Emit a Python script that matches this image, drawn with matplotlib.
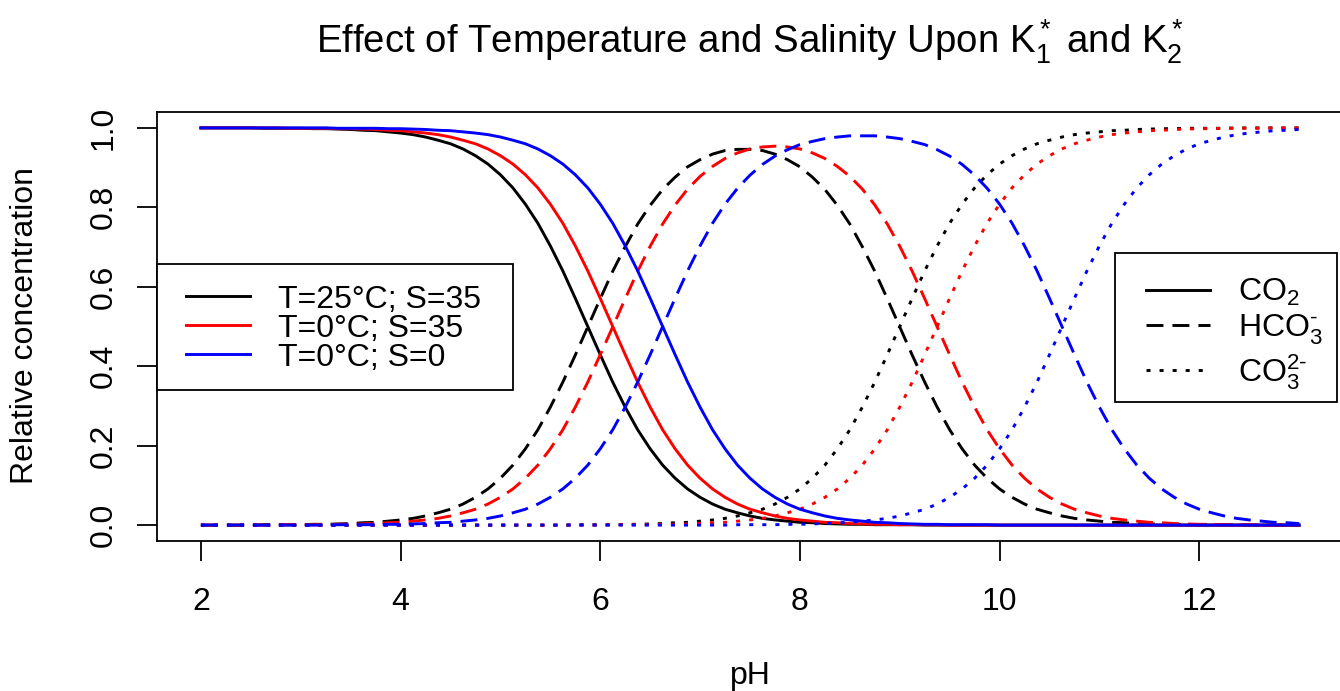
#!/usr/bin/env python3
"""
Carbonate speciation vs pH for three temperature / salinity conditions.
"""

import matplotlib
matplotlib.use('Agg')
import matplotlib.pyplot as plt
from matplotlib.lines import Line2D
from matplotlib.patches import Rectangle

# pH grid the curves were read at (one row per pH unit)
ph = [2.0, 2.125, 2.25, 2.375, 2.5, 2.625, 2.75, 2.875,
      3.0, 3.125, 3.25, 3.375, 3.5, 3.625, 3.75, 3.875,
      4.0, 4.125, 4.25, 4.375, 4.5, 4.625, 4.75, 4.875,
      5.0, 5.125, 5.25, 5.375, 5.5, 5.625, 5.75, 5.875,
      6.0, 6.125, 6.25, 6.375, 6.5, 6.625, 6.75, 6.875,
      7.0, 7.125, 7.25, 7.375, 7.5, 7.625, 7.75, 7.875,
      8.0, 8.125, 8.25, 8.375, 8.5, 8.625, 8.75, 8.875,
      9.0, 9.125, 9.25, 9.375, 9.5, 9.625, 9.75, 9.875,
      10.0, 10.125, 10.25, 10.375, 10.5, 10.625, 10.75, 10.875,
      11.0, 11.125, 11.25, 11.375, 11.5, 11.625, 11.75, 11.875,
      12.0, 12.125, 12.25, 12.375, 12.5, 12.625, 12.75, 12.875,
      13.0]

# T=25C; S=35
co2_t25_s35 = [1.000, 1.000, 1.000, 1.000, 1.000, 0.999, 0.999, 0.999,
               0.999, 0.998, 0.998, 0.997, 0.996, 0.994, 0.993, 0.990,
               0.987, 0.983, 0.977, 0.969, 0.960, 0.947, 0.930, 0.909,
               0.882, 0.849, 0.808, 0.760, 0.703, 0.640, 0.571, 0.500,
               0.429, 0.360, 0.297, 0.240, 0.192, 0.151, 0.118, 0.091,
               0.070, 0.053, 0.040, 0.031, 0.023, 0.017, 0.013, 0.010,
               0.007, 0.006, 0.004, 0.003, 0.002, 0.002, 0.001, 0.001,
               0.001, 0.001, 0.000, 0.000, 0.000, 0.000, 0.000, 0.000,
               0.000, 0.000, 0.000, 0.000, 0.000, 0.000, 0.000, 0.000,
               0.000, 0.000, 0.000, 0.000, 0.000, 0.000, 0.000, 0.000,
               0.000, 0.000, 0.000, 0.000, 0.000, 0.000, 0.000, 0.000,
               0.000]
hco3_t25_s35 = [0.000, 0.000, 0.000, 0.000, 0.000, 0.001, 0.001, 0.001,
                0.001, 0.002, 0.002, 0.003, 0.004, 0.006, 0.007, 0.010,
                0.013, 0.017, 0.023, 0.031, 0.040, 0.053, 0.070, 0.091,
                0.118, 0.151, 0.192, 0.240, 0.297, 0.360, 0.428, 0.499,
                0.570, 0.639, 0.701, 0.758, 0.805, 0.845, 0.876, 0.902,
                0.920, 0.934, 0.943, 0.946, 0.946, 0.943, 0.934, 0.920,
                0.902, 0.876, 0.845, 0.805, 0.758, 0.701, 0.639, 0.570,
                0.499, 0.428, 0.360, 0.297, 0.240, 0.192, 0.151, 0.118,
                0.091, 0.070, 0.053, 0.040, 0.031, 0.023, 0.017, 0.013,
                0.010, 0.007, 0.006, 0.004, 0.003, 0.002, 0.002, 0.001,
                0.001, 0.001, 0.001, 0.000, 0.000, 0.000, 0.000, 0.000,
                0.000]
co3_t25_s35 = [0.000, 0.000, 0.000, 0.000, 0.000, 0.000, 0.000, 0.000,
               0.000, 0.000, 0.000, 0.000, 0.000, 0.000, 0.000, 0.000,
               0.000, 0.000, 0.000, 0.000, 0.000, 0.000, 0.000, 0.000,
               0.000, 0.000, 0.000, 0.000, 0.000, 0.000, 0.001, 0.001,
               0.001, 0.001, 0.002, 0.002, 0.003, 0.004, 0.006, 0.007,
               0.010, 0.013, 0.017, 0.023, 0.031, 0.040, 0.053, 0.070,
               0.091, 0.118, 0.151, 0.192, 0.240, 0.297, 0.360, 0.429,
               0.500, 0.571, 0.640, 0.703, 0.760, 0.808, 0.849, 0.882,
               0.909, 0.930, 0.947, 0.960, 0.969, 0.977, 0.983, 0.987,
               0.990, 0.993, 0.994, 0.996, 0.997, 0.998, 0.998, 0.999,
               0.999, 0.999, 0.999, 1.000, 1.000, 1.000, 1.000, 1.000,
               1.000]

# T=0C; S=35
co2_t0_s35 = [1.000, 1.000, 1.000, 1.000, 1.000, 1.000, 1.000, 0.999,
              0.999, 0.999, 0.999, 0.998, 0.998, 0.997, 0.996, 0.994,
              0.993, 0.990, 0.987, 0.983, 0.977, 0.969, 0.960, 0.947,
              0.930, 0.909, 0.882, 0.849, 0.808, 0.760, 0.703, 0.640,
              0.571, 0.500, 0.429, 0.360, 0.297, 0.240, 0.192, 0.151,
              0.118, 0.091, 0.070, 0.053, 0.040, 0.031, 0.023, 0.017,
              0.013, 0.010, 0.007, 0.006, 0.004, 0.003, 0.002, 0.002,
              0.001, 0.001, 0.001, 0.001, 0.000, 0.000, 0.000, 0.000,
              0.000, 0.000, 0.000, 0.000, 0.000, 0.000, 0.000, 0.000,
              0.000, 0.000, 0.000, 0.000, 0.000, 0.000, 0.000, 0.000,
              0.000, 0.000, 0.000, 0.000, 0.000, 0.000, 0.000, 0.000,
              0.000]
hco3_t0_s35 = [0.000, 0.000, 0.000, 0.000, 0.000, 0.000, 0.000, 0.001,
               0.001, 0.001, 0.001, 0.002, 0.002, 0.003, 0.004, 0.006,
               0.007, 0.010, 0.013, 0.017, 0.023, 0.031, 0.040, 0.053,
               0.070, 0.091, 0.118, 0.151, 0.192, 0.240, 0.297, 0.360,
               0.429, 0.499, 0.570, 0.639, 0.702, 0.758, 0.806, 0.846,
               0.878, 0.903, 0.923, 0.937, 0.947, 0.952, 0.954, 0.952,
               0.947, 0.937, 0.923, 0.903, 0.878, 0.846, 0.806, 0.758,
               0.702, 0.639, 0.570, 0.499, 0.429, 0.360, 0.297, 0.240,
               0.192, 0.151, 0.118, 0.091, 0.070, 0.053, 0.040, 0.031,
               0.023, 0.017, 0.013, 0.010, 0.007, 0.006, 0.004, 0.003,
               0.002, 0.002, 0.001, 0.001, 0.001, 0.001, 0.000, 0.000,
               0.000]
co3_t0_s35 = [0.000, 0.000, 0.000, 0.000, 0.000, 0.000, 0.000, 0.000,
              0.000, 0.000, 0.000, 0.000, 0.000, 0.000, 0.000, 0.000,
              0.000, 0.000, 0.000, 0.000, 0.000, 0.000, 0.000, 0.000,
              0.000, 0.000, 0.000, 0.000, 0.000, 0.000, 0.000, 0.000,
              0.000, 0.001, 0.001, 0.001, 0.001, 0.002, 0.002, 0.003,
              0.004, 0.006, 0.007, 0.010, 0.013, 0.017, 0.023, 0.031,
              0.040, 0.053, 0.070, 0.091, 0.118, 0.151, 0.192, 0.240,
              0.297, 0.360, 0.429, 0.500, 0.571, 0.640, 0.703, 0.760,
              0.808, 0.849, 0.882, 0.909, 0.930, 0.947, 0.960, 0.969,
              0.977, 0.983, 0.987, 0.990, 0.993, 0.994, 0.996, 0.997,
              0.998, 0.998, 0.999, 0.999, 0.999, 0.999, 1.000, 1.000,
              1.000]

# T=0C; S=0
co2_t0_s0 = [1.000, 1.000, 1.000, 1.000, 1.000, 1.000, 1.000, 1.000,
             1.000, 1.000, 1.000, 0.999, 0.999, 0.999, 0.999, 0.998,
             0.998, 0.997, 0.996, 0.994, 0.993, 0.990, 0.987, 0.983,
             0.977, 0.969, 0.960, 0.947, 0.930, 0.909, 0.882, 0.849,
             0.808, 0.760, 0.703, 0.640, 0.571, 0.500, 0.429, 0.360,
             0.297, 0.240, 0.192, 0.151, 0.118, 0.091, 0.070, 0.053,
             0.040, 0.031, 0.023, 0.017, 0.013, 0.010, 0.007, 0.006,
             0.004, 0.003, 0.002, 0.002, 0.001, 0.001, 0.001, 0.001,
             0.000, 0.000, 0.000, 0.000, 0.000, 0.000, 0.000, 0.000,
             0.000, 0.000, 0.000, 0.000, 0.000, 0.000, 0.000, 0.000,
             0.000, 0.000, 0.000, 0.000, 0.000, 0.000, 0.000, 0.000,
             0.000]
hco3_t0_s0 = [0.000, 0.000, 0.000, 0.000, 0.000, 0.000, 0.000, 0.000,
              0.000, 0.000, 0.000, 0.001, 0.001, 0.001, 0.001, 0.002,
              0.002, 0.003, 0.004, 0.006, 0.007, 0.010, 0.013, 0.017,
              0.023, 0.031, 0.040, 0.053, 0.070, 0.091, 0.118, 0.151,
              0.192, 0.240, 0.297, 0.360, 0.429, 0.500, 0.571, 0.640,
              0.703, 0.760, 0.808, 0.848, 0.881, 0.908, 0.929, 0.945,
              0.958, 0.966, 0.973, 0.977, 0.980, 0.980, 0.980, 0.977,
              0.973, 0.966, 0.958, 0.945, 0.929, 0.908, 0.881, 0.848,
              0.808, 0.760, 0.703, 0.640, 0.571, 0.500, 0.429, 0.360,
              0.297, 0.240, 0.192, 0.151, 0.118, 0.091, 0.070, 0.053,
              0.040, 0.031, 0.023, 0.017, 0.013, 0.010, 0.007, 0.006,
              0.004]
co3_t0_s0 = [0.000, 0.000, 0.000, 0.000, 0.000, 0.000, 0.000, 0.000,
             0.000, 0.000, 0.000, 0.000, 0.000, 0.000, 0.000, 0.000,
             0.000, 0.000, 0.000, 0.000, 0.000, 0.000, 0.000, 0.000,
             0.000, 0.000, 0.000, 0.000, 0.000, 0.000, 0.000, 0.000,
             0.000, 0.000, 0.000, 0.000, 0.000, 0.000, 0.000, 0.000,
             0.000, 0.000, 0.000, 0.001, 0.001, 0.001, 0.001, 0.002,
             0.002, 0.003, 0.004, 0.006, 0.007, 0.010, 0.013, 0.017,
             0.023, 0.031, 0.040, 0.053, 0.070, 0.091, 0.118, 0.151,
             0.192, 0.240, 0.297, 0.360, 0.429, 0.500, 0.571, 0.640,
             0.703, 0.760, 0.808, 0.849, 0.882, 0.909, 0.930, 0.947,
             0.960, 0.969, 0.977, 0.983, 0.987, 0.990, 0.993, 0.994,
             0.996]

cond_labels = ['T=25°C; S=35', 'T=0°C; S=35', 'T=0°C; S=0']
cond_colors = ['black', 'red', 'blue']
species_labels = [r'$\mathrm{CO}_2$', r'$\mathrm{HCO}_3^{\text{-}}$',
                  r'$\mathrm{CO}_3^{\text{2-}}$']
y_ticks = [0.0, 0.2, 0.4, 0.6, 0.8, 1.0]
x_ticks = [2, 4, 6, 8, 10, 12]

plt.rcParams['font.family'] = ['Liberation Sans', 'DejaVu Sans']
plt.rcParams['mathtext.fontset'] = 'custom'
plt.rcParams['mathtext.rm'] = 'Liberation Sans'
plt.rcParams['mathtext.it'] = 'Liberation Sans:italic'
plt.rcParams['mathtext.bf'] = 'Liberation Sans:bold'
plt.rcParams['lines.scale_dashes'] = False

FS = 23
LW = 2.1
BOX_LW = 1.3
DASHED = (0, (12.2, 6.5))
DOTTED = (0, (2.9, 6.5))
W, H = 1340, 691


def px(x, y):
    """figure pixel (from top-left) -> figure fraction"""
    return x / W, 1 - y / H


def key_box(ax, x0, y0, x1, y1):
    # R-style legend frame, drawn separately so the padding can match
    r = Rectangle(px(x0, y1), (x1 - x0) / W, (y1 - y0) / H,
                  transform=ax.figure.transFigure, facecolor='white',
                  edgecolor='black', linewidth=BOX_LW, zorder=4.5)
    ax.add_patch(r)
    r.set_clip_on(False)


def main():
    fig = plt.figure(figsize=(W / 100, H / 100), dpi=100)
    ax = fig.add_axes([157 / W, 150 / H, 1186 / W, 429 / H])

    series = [(co2_t25_s35, hco3_t25_s35, co3_t25_s35),
              (co2_t0_s35, hco3_t0_s35, co3_t0_s35),
              (co2_t0_s0, hco3_t0_s0, co3_t0_s0)]
    for colour, (co2, hco3, co3) in zip(cond_colors, series):
        ax.plot(ph, co2, color=colour, lw=LW)
        ax.plot(ph, hco3, color=colour, lw=LW, linestyle=DASHED)
        ax.plot(ph, co3, color=colour, lw=LW, linestyle=DOTTED)

    ax.set_xlim(1.56, 13.44)
    ax.set_ylim(-0.04, 1.04)
    ax.set_xticks(x_ticks)
    ax.set_yticks(y_ticks)
    ax.set_yticklabels([f'{v:.1f}' for v in y_ticks])
    for s in ax.spines.values():
        s.set_linewidth(BOX_LW)
    ax.tick_params(axis='both', direction='out', length=14.4, width=BOX_LW,
                   labelsize=FS)
    ax.tick_params(axis='x', pad=19)
    ax.tick_params(axis='y', pad=13, labelrotation=90)
    for lbl in ax.get_yticklabels():
        lbl.set_va('center')

    # legends: frames drawn by hand, contents by ax.legend without frame
    common = dict(loc='upper left', bbox_transform=fig.transFigure,
                  borderaxespad=0, borderpad=0, fontsize=FS, frameon=False,
                  handlelength=2.0, handletextpad=0.875)

    key_box(ax, 157, 264, 513, 390)
    h1 = [Line2D([], [], color=c, lw=LW) for c in cond_colors]
    leg1 = ax.legend(h1, cond_labels, bbox_to_anchor=px(186, 284.5),
                     labelspacing=-0.03, **common)
    ax.add_artist(leg1)

    key_box(ax, 1115, 253, 1337, 402)
    h2 = [Line2D([], [], color='black', lw=LW),
          Line2D([], [], color='black', lw=LW, linestyle=DASHED),
          Line2D([], [], color='black', lw=LW, linestyle=DOTTED)]
    ax.legend(h2, species_labels, bbox_to_anchor=px(1146, 276.75),
              labelspacing=0.15, **common)

    fig.text(*px(750, 53),
             r'Effect of Temperature and Salinity Upon K$_1^*$ and K$_2^*$',
             ha='center', va='baseline', fontsize=FS * 1.2)
    fig.text(*px(750, 684), 'pH', ha='center', va='baseline', fontsize=FS)
    fig.text(*px(25, 326), 'Relative concentration', rotation=90,
             ha='center', va='center', fontsize=FS)

    fig.savefig('out.png', dpi=100)


if __name__ == '__main__':
    main()
